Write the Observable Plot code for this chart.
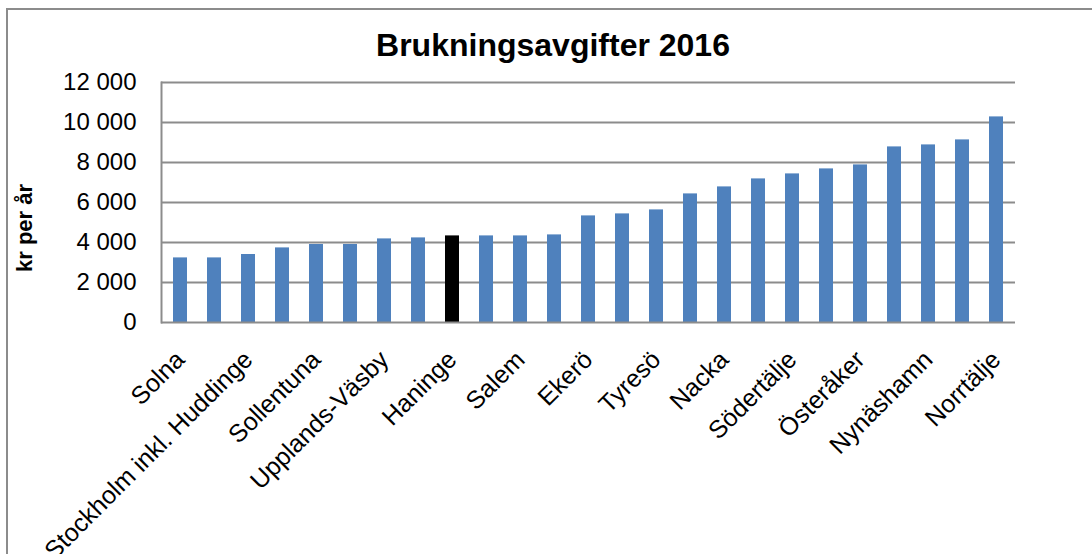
<!DOCTYPE html>
<html>
<head>
<meta charset="utf-8">
<script src="https://cdn.jsdelivr.net/npm/d3@7"></script>
<script src="https://cdn.jsdelivr.net/npm/@observablehq/plot@0.6"></script>
<style>
  html, body { margin: 0; padding: 0; background: #fff; overflow: hidden; }
  #wrap { position: relative; width: 1092px; height: 554px; overflow: hidden; }
  #border { position: absolute; left: 6px; top: 8px; width: 1200px; height: 700px; border: 2px solid #8c8c8c; box-sizing: border-box; }
  #title { position: absolute; left: 0; top: 29px; width: 1106px; text-align: center; font-family: "Liberation Sans", Arial, sans-serif; font-weight: bold; font-size: 32px; line-height: 32px; color: #000; }
  #ylabel { position: absolute; left: 25px; top: 228px; width: 0; height: 0; }
  #ylabel span { position: absolute; left: 0; top: 0; transform: translate(-50%, -50%) rotate(-90deg); white-space: nowrap; font-family: "Liberation Sans", Arial, sans-serif; font-weight: bold; font-size: 22px; line-height: 22px; color: #000; }
  #chart { position: absolute; left: 0; top: 0; }
</style>
</head>
<body>
<div id="wrap">
  <div id="border"></div>
  <div id="chart"></div>
  <div id="title">Brukningsavgifter 2016</div>
  <div id="ylabel"><span></span></div>
</div>
<script>
const municipalities = ["Solna", "Sundbyberg", "Stockholm inkl. Huddinge", "Järfälla", "Sollentuna", "Täby",
  "Upplands-Väsby", "Sigtuna", "Haninge", "Botkyrka", "Salem", "Danderyd", "Ekerö", "Lidingö", "Tyresö",
  "Vallentuna", "Nacka", "Värmdö", "Södertälje", "Vaxholm", "Österåker", "Upplands-Bro", "Nynäshamn",
  "Nykvarn", "Norrtälje"];
const fees = [3230, 3230, 3400, 3730, 3900, 3900, 4180, 4230, 4330, 4330, 4330, 4380, 5330, 5430, 5630,
  6430, 6780, 7180, 7430, 7680, 7880, 8780, 8880, 9130, 10280];
const highlighted = "Haninge";
const shownLabels = municipalities.filter((d, i) => i % 2 === 0);
const yTicks = [0, 2000, 4000, 6000, 8000, 10000, 12000];
const yLabel = "kr per år";

document.querySelector("#ylabel span").textContent = yLabel;

const data = municipalities.map((name, i) => ({name, value: fees[i]}));
const fmt = d => d3.format(",")(d).replace(/,/g, " ");

const chart = Plot.plot({
  width: 1092,
  height: 554,
  marginLeft: 161,
  marginRight: 77,
  marginTop: 82,
  marginBottom: 232,
  style: {fontFamily: "Liberation Sans, Arial, sans-serif", fontSize: "24px", color: "#000", background: "transparent"},
  x: {domain: municipalities, paddingInner: 0.59, paddingOuter: 0.295, label: null},
  y: {domain: [0, 12000], label: null},
  marks: [
    Plot.gridY(yTicks.slice(1), {stroke: "#8c8c8c", strokeOpacity: 1, strokeWidth: 2}),
    Plot.barY(data.filter(d => d.name !== highlighted), {x: "name", y: "value", fill: "#4f81bd"}),
    Plot.barY(data.filter(d => d.name === highlighted), {x: "name", y: "value", fill: "#000000"}),
    Plot.ruleY([0], {stroke: "#8c8c8c", strokeWidth: 2}),
    Plot.frame({anchor: "left", stroke: "#8c8c8c", strokeWidth: 2}),
    Plot.axisY({ticks: yTicks, tickSize: 0, tickPadding: 25, tickFormat: fmt, label: null}),
    Plot.axisX({ticks: shownLabels, tickSize: 0, tickRotate: -45, tickPadding: 33, fontSize: 25, label: null})
  ]
});
document.getElementById("chart").appendChild(chart);
</script>
</body>
</html>
